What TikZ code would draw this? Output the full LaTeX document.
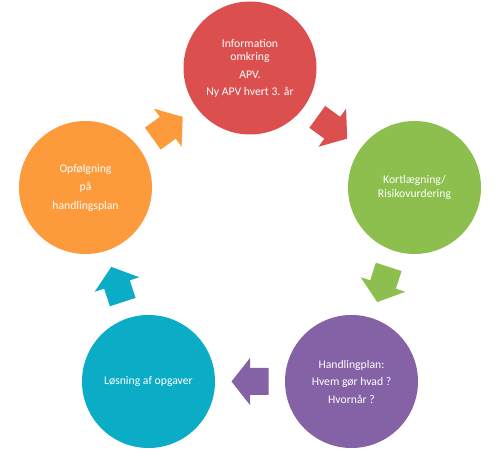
\documentclass[tikz,border=0pt]{standalone}
\usepackage{fontspec}
\setmainfont{Carlito}
\usetikzlibrary{calc}
\definecolor{cred}{HTML}{DB4F4F}
\definecolor{cgreen}{HTML}{8DBF4E}
\definecolor{cpurple}{HTML}{8462A5}
\definecolor{cteal}{HTML}{0BACC6}
\definecolor{corange}{HTML}{FD9A3B}
\begin{document}
\begin{tikzpicture}[x=1bp,y=1bp,
  cyc/.style={circle, minimum size=133bp, inner sep=0pt, text=white, align=center,
    font=\fontsize{11.7bp}{13.5bp}\selectfont},
  blockarrow/.pic={\fill[#1] (-18.5,-13.5) -- (0,-13.5) -- (0,-23.5) -- (18.5,0)
    -- (0,23.5) -- (0,13.5) -- (-18.5,13.5) -- cycle;}]
\useasboundingbox (0,0) rectangle (500,451);
\node[cyc, fill=cred] (info) at (250,383) {Information\\omkring\\[4bp]APV.\\[3.5bp]Ny APV hvert 3. år};
\node[cyc, fill=cgreen] (kort) at (414.5,263.5) {Kortlægning/\\Risikovurdering};
\node[cyc, fill=cpurple] (hand) at (351.5,69.5) {Handlingplan:\\[4bp]Hvem gør hvad ?\\[4bp]Hvornår ?};
\node[cyc, fill=cteal] (losn) at (148.5,69.5) {Løsning af opgaver};
\node[cyc, fill=corange] (opf) at (85.5,263.5) {Opfølgning\\[5bp]på\\[5bp]handlingsplan};
\pic[rotate=-36] at ($(info)!0.5!(kort)$) {blockarrow=cred};
\pic[rotate=-108] at ($(kort)!0.5!(hand)$) {blockarrow=cgreen};
\pic[rotate=180] at ($(hand)!0.5!(losn)$) {blockarrow=cpurple};
\pic[rotate=108] at ($(losn)!0.5!(opf)$) {blockarrow=cteal};
\pic[rotate=36] at ($(opf)!0.5!(info)$) {blockarrow=corange};
\end{tikzpicture}
\end{document}
